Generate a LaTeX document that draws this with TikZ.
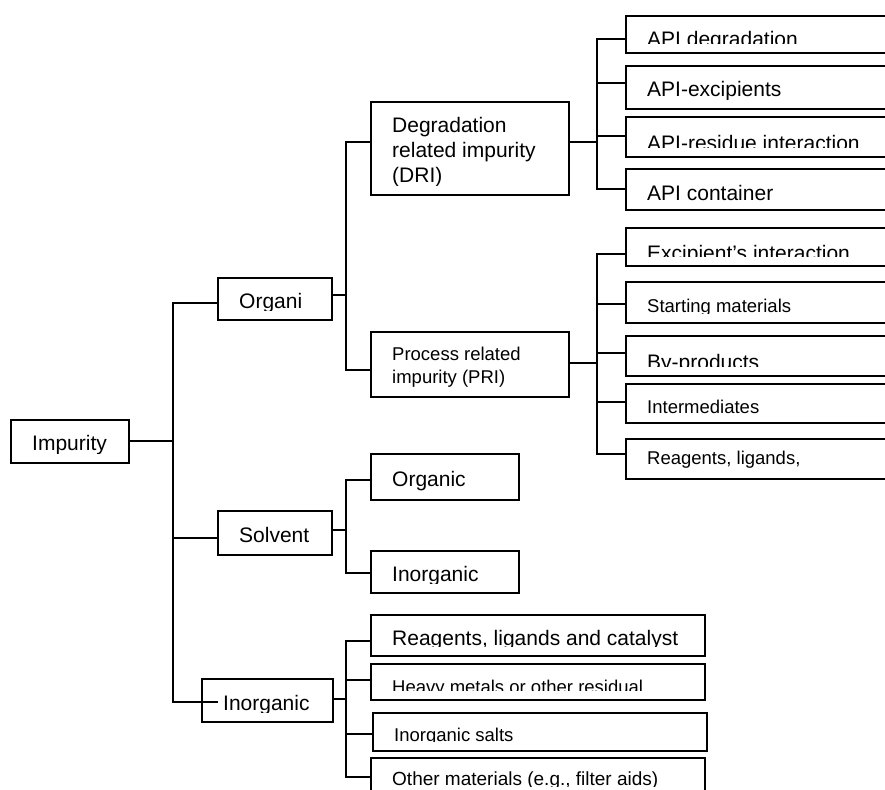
\documentclass[tikz,border=0pt]{standalone}
\usepackage{fontspec}
\setmainfont{Liberation Sans}
\usetikzlibrary{fit,calc}
\newcommand\btext[6]{%
  \begin{scope}
    \clip (#1.north west) rectangle ([yshift=10pt]#1.south east);
    \node[txt,font=\fontsize{#2}{#3}\selectfont] (#1t) at (#4,#5) {#6};
  \end{scope}}
\begin{document}
\begin{tikzpicture}[x=1pt,y=-1pt,
  bx/.style={draw, line width=1.6pt, inner sep=0pt},
  ln/.style={line width=1.6pt, line cap=rect},
  txt/.style={anchor=base west, inner sep=0pt, align=left}]
\useasboundingbox (0,0) rectangle (885,789);
\clip (0,0) rectangle (885,789);
% boxes
\node[bx, fit={(11,420)(129,463)}] (imp) {};
\node[bx, fit={(218,278)(332,320)}] (org) {};
\node[bx, fit={(218,511)(332,555)}] (sol) {};
\node[bx, fit={(202,679)(333,722)}] (inorg) {};
\node[bx, fit={(371,102)(569,195)}] (dri) {};
\node[bx, fit={(371,332)(569,397)}] (pri) {};
\node[bx, fit={(626,16)(900,53)}] (d1) {};
\node[bx, fit={(626,66)(900,109)}] (d2) {};
\node[bx, fit={(626,117)(900,157)}] (d3) {};
\node[bx, fit={(626,169)(900,210)}] (d4) {};
\node[bx, fit={(626,228)(900,266)}] (p1) {};
\node[bx, fit={(626,282)(900,323)}] (p2) {};
\node[bx, fit={(626,336)(900,376)}] (p3) {};
\node[bx, fit={(626,384)(900,423)}] (p4) {};
\node[bx, fit={(626,439)(900,479)}] (p5) {};
\node[bx, fit={(371,454)(519,500)}] (so) {};
\node[bx, fit={(371,551)(519,593)}] (si) {};
\node[bx, fit={(371,615)(705,656)}] (i1) {};
\node[bx, fit={(371,664)(705,700)}] (i2) {};
\node[bx, fit={(373,713)(707,751)}] (i3) {};
\node[bx, fit={(371,758)(705,796)}] (i4) {};
% texts (multi-line nodes: base = last line)
\btext{imp}{21}{25}{32}{450}{Impurity}
\btext{org}{21}{25}{239}{308}{Organi}
\btext{sol}{21}{25}{239}{542}{Solvent}
\btext{inorg}{21}{25}{223}{710}{Inorganic}
\btext{dri}{21}{25}{392}{182}{Degradation\\related impurity\\(DRI)}
\btext{pri}{18.5}{23}{392}{383}{Process related\\impurity (PRI)}
\btext{d1}{21}{25}{647}{47}{API degradation}
\btext{d2}{21}{25}{647}{97}{API-excipients}
\btext{d3}{21}{25}{647}{150}{API-residue interaction}
\btext{d4}{21}{25}{647}{200}{API container}
\btext{p1}{21}{25}{647}{260}{Excipient’s interaction}
\btext{p2}{18.5}{23}{647}{312}{Starting materials}
\btext{p3}{21}{25}{647}{369}{By-products}
\btext{p4}{18.5}{23}{647}{413}{Intermediates}
\btext{p5}{18.5}{23}{647}{464}{Reagents, ligands,}
\btext{so}{21}{25}{392}{486}{Organic}
\btext{si}{21}{25}{392}{581}{Inorganic}
\btext{i1}{21}{25}{392}{645}{Reagents, ligands and catalyst}
\btext{i2}{18.5}{23}{392}{693}{Heavy metals or other residual}
\btext{i3}{18.5}{23}{394}{741}{Inorganic salts}
\btext{i4}{19}{23}{392}{785}{Other materials (e.g., filter aids)}
% connection points
\coordinate (impR) at ([yshift=0.5pt]imp.east);
\coordinate (orgL) at ([yshift=-4pt]org.west);
\coordinate (orgR) at ([yshift=4pt]org.east);
\coordinate (solL) at ([yshift=-5pt]sol.west);
\coordinate (solR) at ([yshift=3pt]sol.east);
\coordinate (inorgL) at ([yshift=-1.5pt,xshift=16pt]inorg.west);
\coordinate (inorgR) at ([yshift=1.5pt]inorg.east);
\coordinate (driL) at ([yshift=6.5pt]dri.west);
\coordinate (driR) at ([yshift=6.5pt]dri.east);
\coordinate (priL) at ([yshift=-5.5pt]pri.west);
\coordinate (priR) at ([yshift=1.5pt]pri.east);
\coordinate (d1L) at ([yshift=-4.5pt]d1.west);
\coordinate (d2L) at ([yshift=4.5pt]d2.west);
\coordinate (d3L) at ([yshift=1pt]d3.west);
\coordinate (d4L) at ([yshift=0.5pt]d4.west);
\coordinate (p1L) at ([yshift=-7pt]p1.west);
\coordinate (p2L) at ([yshift=-1.5pt]p2.west);
\coordinate (p3L) at ([yshift=3pt]p3.west);
\coordinate (p4L) at ([yshift=1.5pt]p4.west);
\coordinate (p5L) at ([yshift=5pt]p5.west);
\coordinate (soL) at ([yshift=-3pt]so.west);
\coordinate (siL) at ([yshift=-1pt]si.west);
\coordinate (i1L) at ([yshift=-5.5pt]i1.west);
\coordinate (i2L) at ([yshift=2pt]i2.west);
\coordinate (i3L) at ([yshift=-2pt]i3.west);
\coordinate (i4L) at (i4.west);
% trunk x positions
\coordinate (ta) at (173,0);
\coordinate (tb) at (346,0);
\coordinate (tc) at (597,0);
% main tree
\draw[ln] (impR) -- (ta |- impR);
\draw[ln] (ta |- orgL) -- (ta |- inorgL);
\draw[ln] (ta |- orgL) -- (orgL);
\draw[ln] (ta |- solL) -- (solL);
\draw[ln] (ta |- inorgL) -- (inorgL);
% organic
\draw[ln] (orgR) -- (tb |- orgR);
\draw[ln] (tb |- driL) -- (tb |- priL);
\draw[ln] (tb |- driL) -- (driL);
\draw[ln] (tb |- priL) -- (priL);
% DRI
\draw[ln] (driR) -- (tc |- driR);
\draw[ln] (tc |- d1L) -- (tc |- d4L);
\foreach \c in {d1L,d2L,d3L,d4L} \draw[ln] (tc |- \c) -- (\c);
% PRI
\draw[ln] (priR) -- (tc |- priR);
\draw[ln] (tc |- p1L) -- (tc |- p5L);
\foreach \c in {p1L,p2L,p3L,p4L,p5L} \draw[ln] (tc |- \c) -- (\c);
% solvent
\draw[ln] (solR) -- (tb |- solR);
\draw[ln] (tb |- soL) -- (tb |- siL);
\foreach \c in {soL,siL} \draw[ln] (tb |- \c) -- (\c);
% inorganic
\draw[ln] (inorgR) -- (tb |- inorgR);
\draw[ln] (tb |- i1L) -- (tb |- i4L);
\foreach \c in {i1L,i2L,i3L,i4L} \draw[ln] (tb |- \c) -- (\c);
\end{tikzpicture}
\end{document}
